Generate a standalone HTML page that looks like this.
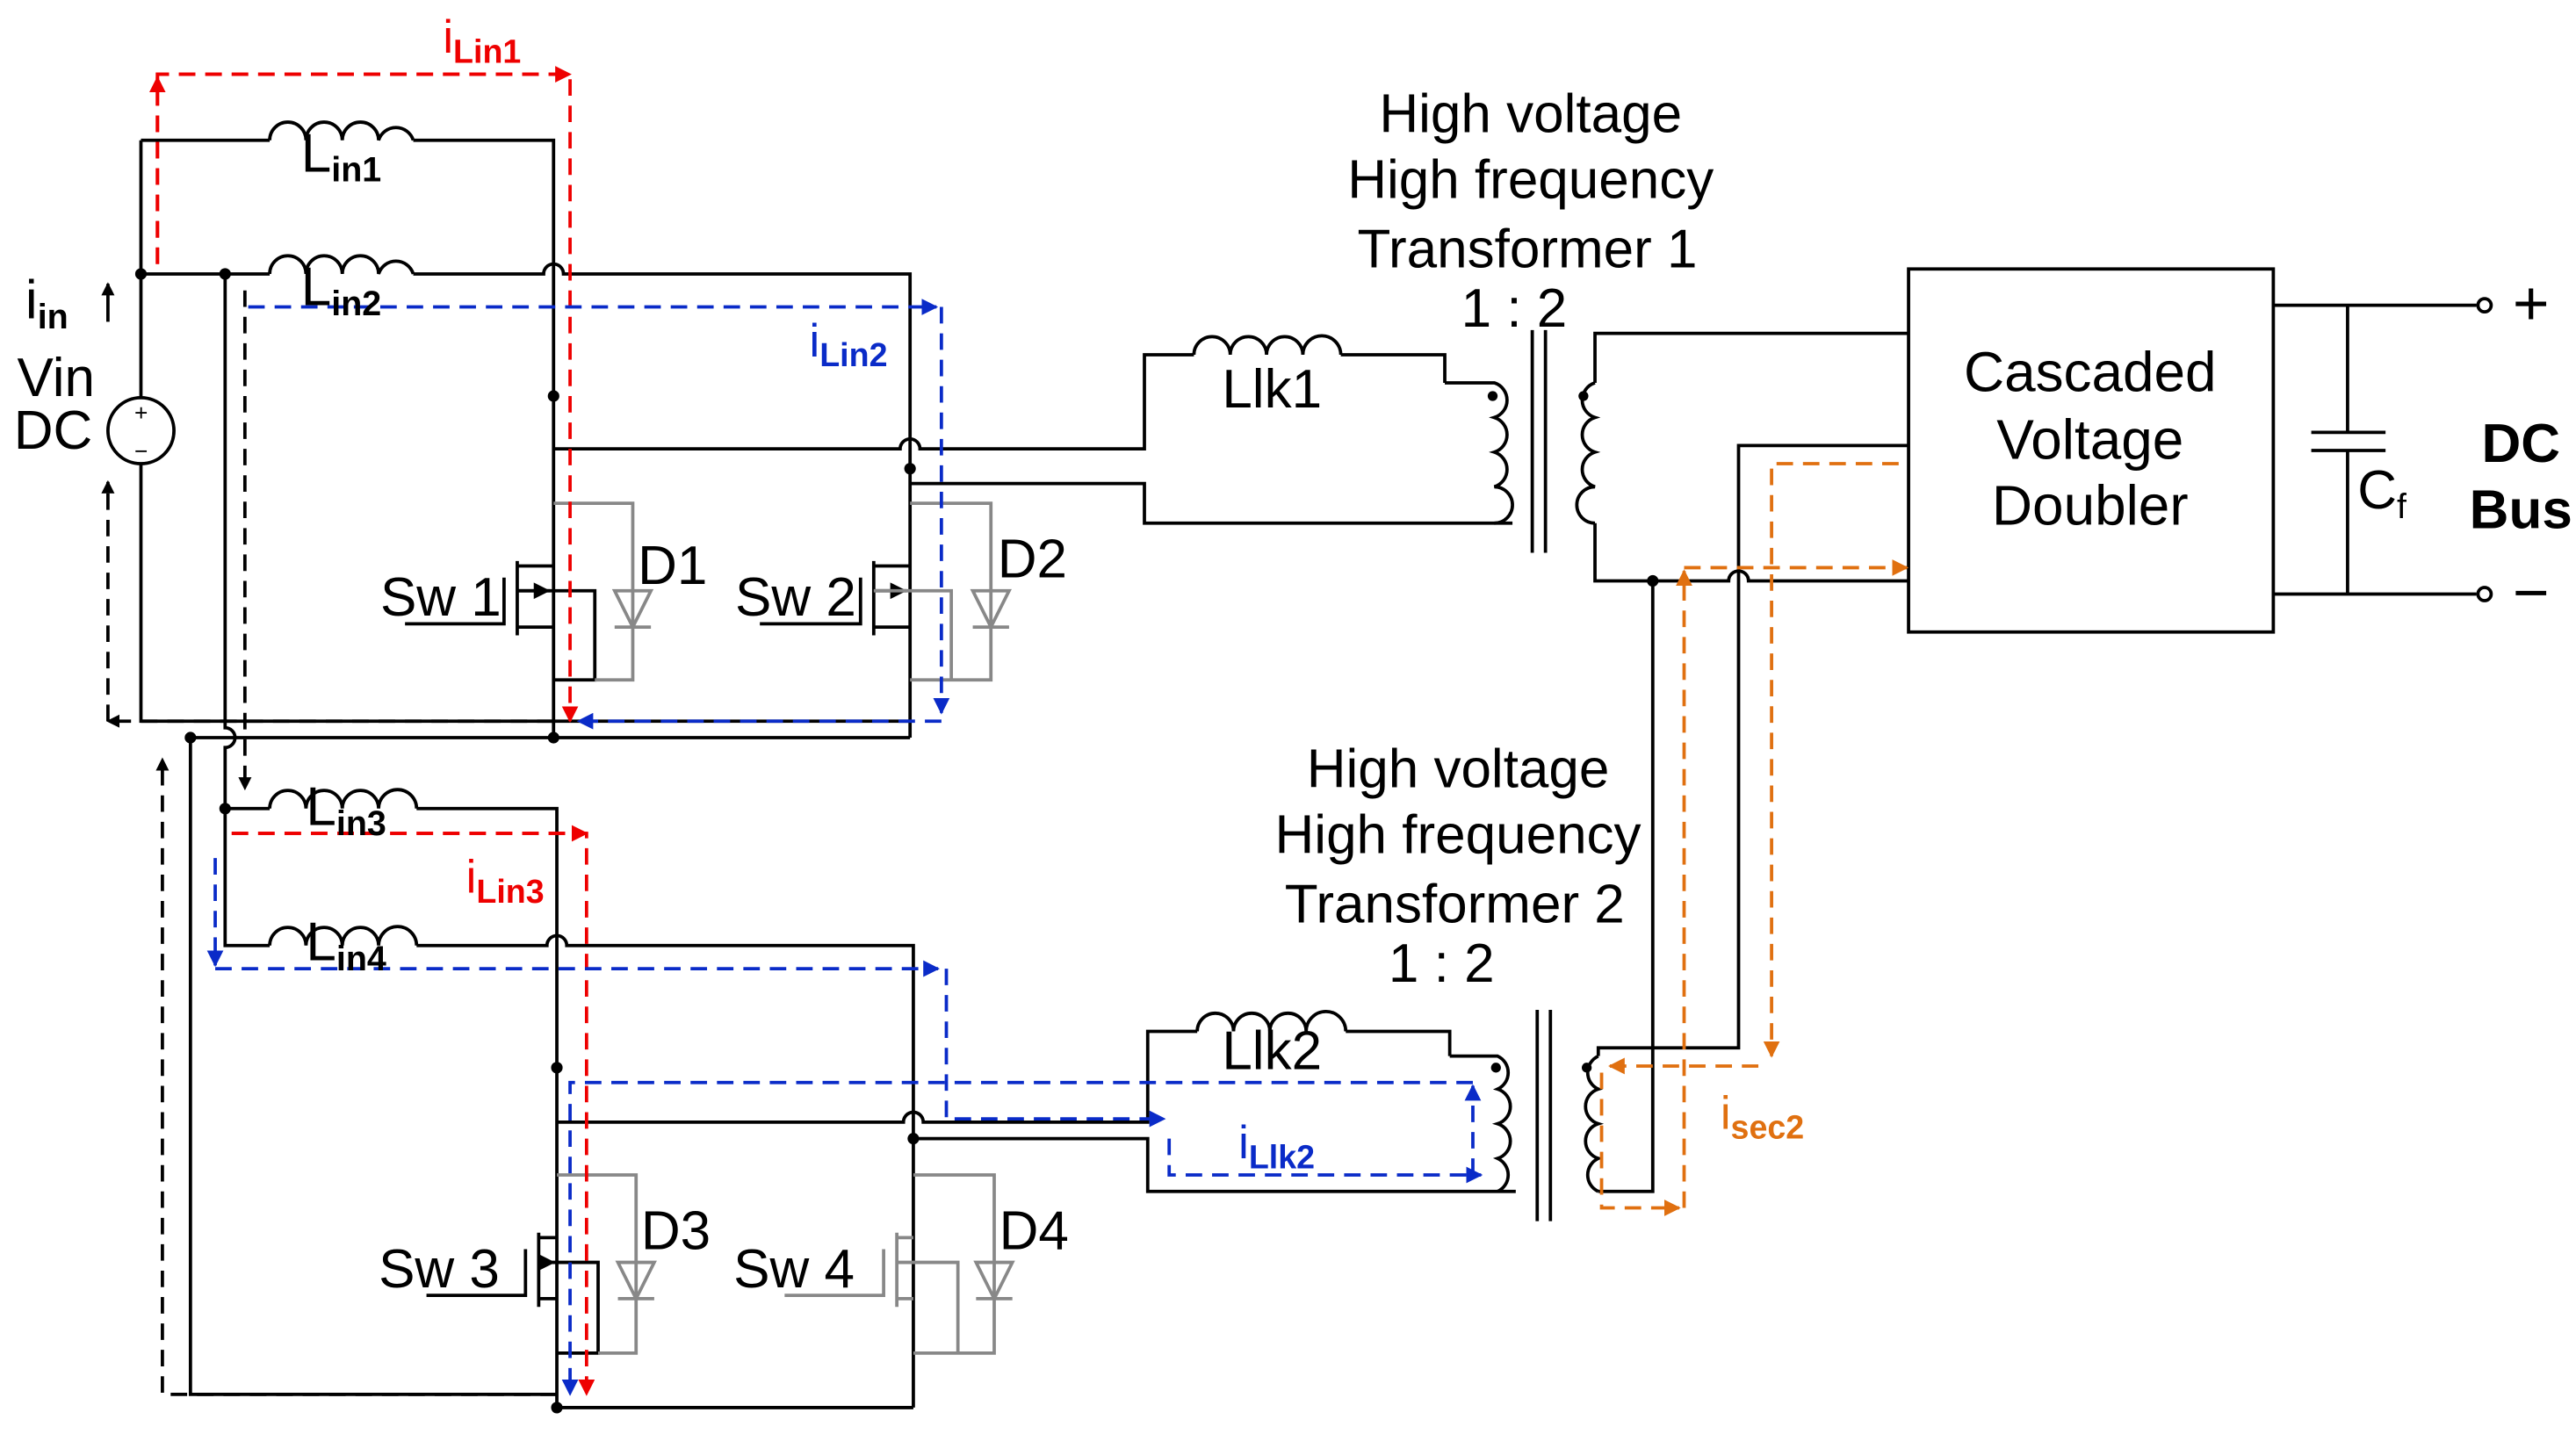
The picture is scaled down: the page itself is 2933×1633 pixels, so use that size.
<!DOCTYPE html>
<html><head><meta charset="utf-8"><style>html,body{margin:0;padding:0;background:#fff}svg{display:block}</style></head><body>
<svg width="2933" height="1633" viewBox="0 0 1560 869" xmlns="http://www.w3.org/2000/svg" font-family="Liberation Sans, sans-serif">
<defs>
<marker id="ak" markerWidth="8" markerHeight="8" refX="7" refY="4" orient="auto" markerUnits="userSpaceOnUse"><path d="M0,0L8,4L0,8z" fill="#000"/></marker>
<marker id="ar" markerWidth="10" markerHeight="10" refX="9" refY="5" orient="auto" markerUnits="userSpaceOnUse"><path d="M0,0L10,5L0,10z" fill="#e00"/></marker>
<marker id="ab" markerWidth="10" markerHeight="10" refX="9" refY="5" orient="auto" markerUnits="userSpaceOnUse"><path d="M0,0L10,5L0,10z" fill="#0a2bc8"/></marker>
<marker id="ao" markerWidth="10" markerHeight="10" refX="9" refY="5" orient="auto" markerUnits="userSpaceOnUse"><path d="M0,0L10,5L0,10z" fill="#e07010"/></marker>
</defs>
<g fill="none" stroke="#000" stroke-width="2">
<path d="M85,85V241M85,281V437H551"/>
<circle cx="85" cy="261" r="20"/>
<path d="M85,85H163M250,85H335V447"/>
<path d="M163,85a11,11 0 0 1 22,0a11,11 0 0 1 22,0a11,11 0 0 1 22,0a11,11 0 0 1 21,0"/>
<path d="M85,166H163M250,166H329a6,6 0 0 1 12,0H551V447"/>
<path d="M163,166a11,11 0 0 1 22,0a11,11 0 0 1 22,0a11,11 0 0 1 22,0a11,11 0 0 1 21,0"/>
<path d="M136,166V441a6,6 0 0 1 0,12V573H163M115,447H551M115,447V845H337"/>
<path d="M136,490H163M252,490H337V853H553"/>
<path d="M163,490a11,11 0 0 1 22,0a11,11 0 0 1 22,0a11,11 0 0 1 22,0a11,11 0 0 1 23,0"/>
<path d="M252,573H331a6,6 0 0 1 12,0H553V853"/>
<path d="M163,573a11,11 0 0 1 22,0a11,11 0 0 1 22,0a11,11 0 0 1 22,0a11,11 0 0 1 23,0"/>
<path d="M335,272H545a6,6 0 0 1 12,0H693V215H723M812,215H875V232"/>
<path d="M723,215a11,11 0 0 1 22,0a11,11 0 0 1 22,0a11,11 0 0 1 22,0a11,11 0 0 1 23,0"/>
<path d="M551,293H693V317H916"/>
<path d="M875,232H905a11,11 0 0 1 0,21a11,11 0 0 1 0,21a11,11 0 0 1 0,21a11,11 0 0 1 0,22"/>
<path d="M928,200V335M936,200V335"/>
<path d="M966,232a11,11 0 0 0 0,21a11,11 0 0 0 0,21a11,11 0 0 0 0,21a11,11 0 0 0 0,22"/>
<path d="M966,232V202H1156M966,317V352H1047a6,6 0 0 1 12,0H1156"/>
<path d="M337,680H547a6,6 0 0 1 12,0H695V625H725M815,625H878V640"/>
<path d="M725,625a11,11 0 0 1 22,0a11,11 0 0 1 22,0a11,11 0 0 1 22,0a11,11 0 0 1 24,0"/>
<path d="M553,690H695V722H918"/>
<path d="M878,640H907a11,11 0 0 1 0,20a11,11 0 0 1 0,21a11,11 0 0 1 0,21a11,11 0 0 1 0,20"/>
<path d="M931,612V740M939,612V740"/>
<path d="M968,640a11,11 0 0 0 0,20a11,11 0 0 0 0,21a11,11 0 0 0 0,21a11,11 0 0 0 0,20"/>
<path d="M968,640V635H1053V270H1156M968,722H1001V352"/>
<rect x="1156" y="163" width="221" height="220"/>
<path d="M1377,185H1500M1377,360H1500M1422,185V262M1422,273V360M1400,262H1445M1400,273H1445"/>
<circle cx="1505" cy="185" r="4"/><circle cx="1505" cy="360" r="4"/>
<path d="M245,378H305V350M313,340V385M313,343H335M313,380H335M313,358H333"/>
<path d="M460,378H521V350M529,340V385M529,343H551M529,380H551M529,358H549"/>
<path d="M258,785H318V757M326,747V792M326,750H337M326,787H337M326,765H362V820H337"/>
<path d="M313,358H360V412H335"/>
</g>
<g fill="#000"><path d="M333,353l-10,5 10,5z" transform="rotate(180 328 358)"/><path d="M549,353l-10,5 10,5z" transform="rotate(180 544 358)"/><path d="M336,760l-10,5 10,5z" transform="rotate(180 331 765)"/></g>
<g fill="none" stroke="#888" stroke-width="2">
<path d="M335,305H383V412H360M551,305H600V412H551M529,358H576V412"/>
<path d="M372,380H394M383,380L372,358H394Z"/>
<path d="M589,380H611M600,380L589,358H611Z"/>
<path d="M337,712H385V820H362"/>
<path d="M374,787H396M385,787L374,765H396Z"/>
<path d="M553,712H602V820H553M475,785H535V757M543,747V792M543,750H553M543,787H553M543,765H580V820H553"/>
<path d="M591,787H613M602,787L591,765H613Z"/>
</g>
<g fill="#000"><circle cx="85" cy="166" r="3.5"/><circle cx="136" cy="166" r="3.5"/><circle cx="335" cy="240" r="3.5"/><circle cx="551" cy="284" r="3.5"/><circle cx="335" cy="447" r="3.5"/><circle cx="115" cy="447" r="3.5"/><circle cx="136" cy="490" r="3.5"/><circle cx="337" cy="647" r="3.5"/><circle cx="553" cy="690" r="3.5"/><circle cx="337" cy="853" r="3.5"/><circle cx="1001" cy="352" r="3.5"/>
<circle cx="904" cy="240" r="3"/><circle cx="959" cy="240" r="3"/><circle cx="906" cy="647" r="3"/><circle cx="961" cy="647" r="3"/></g>
<g fill="none" stroke-width="2" stroke-dasharray="10,6">
<path d="M95,160V45H345V437" stroke="#e00" marker-end="url(#ar)"/>
<path d="M95,160V45H345" stroke="#e00" marker-end="url(#ar)"/>
<path d="M95,160V47" stroke="#e00" marker-end="url(#ar)"/>
<path d="M140,505H355V845" stroke="#e00" marker-end="url(#ar)"/>
<path d="M140,505H355" stroke="#e00" marker-end="url(#ar)"/>
<path d="M150,186H567" stroke="#0a2bc8" marker-end="url(#ab)"/>
<path d="M570,186V432" stroke="#0a2bc8" marker-end="url(#ab)"/>
<path d="M570,437H350" stroke="#0a2bc8" marker-end="url(#ab)"/>
<path d="M130,520V585" stroke="#0a2bc8" marker-end="url(#ab)"/>
<path d="M130,587H568" stroke="#0a2bc8" marker-end="url(#ab)"/>
<path d="M573,587V678H705" stroke="#0a2bc8" marker-end="url(#ab)"/>
<path d="M708,690V712H897" stroke="#0a2bc8" marker-end="url(#ab)"/>
<path d="M892,712V658" stroke="#0a2bc8" marker-end="url(#ab)"/>
<path d="M892,656H345V845" stroke="#0a2bc8" marker-end="url(#ab)"/>
<path d="M148,176V478" stroke="#000" marker-end="url(#ak)"/>
<path d="M335,437H65" stroke="#000" marker-end="url(#ak)"/>
<path d="M65,437V292" stroke="#000" marker-end="url(#ak)"/>
<path d="M337,845H98V460" stroke="#000" marker-end="url(#ak)"/>
<path d="M1150,281H1073V640" stroke="#e07010" marker-end="url(#ao)"/>
<path d="M1065,646H975" stroke="#e07010" marker-end="url(#ao)"/>
<path d="M970,650V732H1017" stroke="#e07010" marker-end="url(#ao)"/>
<path d="M1020,732V346" stroke="#e07010" marker-end="url(#ao)"/>
<path d="M1020,344H1155" stroke="#e07010" marker-end="url(#ao)"/>
</g>
<path d="M65,195V172" stroke="#000" stroke-width="2" marker-end="url(#ak)"/>
<g font-size="33" fill="#000">
<text x="182" y="104">L<tspan font-size="21" font-weight="bold" dy="6">in1</tspan></text>
<text x="182" y="185">L<tspan font-size="21" font-weight="bold" dy="6">in2</tspan></text>
<text x="185" y="500">L<tspan font-size="21" font-weight="bold" dy="6">in3</tspan></text>
<text x="185" y="582">L<tspan font-size="21" font-weight="bold" dy="6">in4</tspan></text>
<text x="15" y="193">i<tspan font-size="21" font-weight="bold" dy="6">in</tspan></text>
<text x="10" y="240">Vin</text><text x="8" y="272">DC</text>
<text x="230" y="373">Sw 1</text><text x="386" y="354">D1</text>
<text x="445" y="373">Sw 2</text><text x="604" y="350">D2</text>
<text x="229" y="780">Sw 3</text><text x="388" y="757">D3</text>
<text x="444" y="780">Sw 4</text><text x="605" y="757">D4</text>
<text x="740" y="247">Llk1</text><text x="740" y="648">Llk2</text>
<g text-anchor="middle"><text x="927" y="80">High voltage</text><text x="927" y="120">High frequency</text><text x="925" y="162">Transformer 1</text><text x="917" y="198">1 : 2</text>
<text x="883" y="477">High voltage</text><text x="883" y="517">High frequency</text><text x="881" y="559">Transformer 2</text><text x="873" y="595">1 : 2</text>
<g font-size="34"><text x="1266" y="237">Cascaded</text><text x="1266" y="278">Voltage</text><text x="1266" y="318">Doubler</text></g></g>
<text x="1428" y="308">C<tspan font-size="21" dy="6">f</tspan></text>
<g font-weight="bold" text-anchor="middle"><text x="1527" y="280">DC</text><text x="1527" y="320">Bus</text></g>
<text x="1522" y="197" font-size="38">+</text><text x="1522" y="372" font-size="38">−</text>
</g>
<g font-size="28">
<text x="268" y="32" fill="#e00">i<tspan font-size="20" font-weight="bold" dy="6">Lin1</tspan></text>
<text x="282" y="541" fill="#e00">i<tspan font-size="20" font-weight="bold" dy="6">Lin3</tspan></text>
<text x="490" y="216" fill="#0a2bc8">i<tspan font-size="20" font-weight="bold" dy="6">Lin2</tspan></text>
<text x="750" y="702" fill="#0a2bc8">i<tspan font-size="20" font-weight="bold" dy="6">Llk2</tspan></text>
<text x="1042" y="684" fill="#e07010">i<tspan font-size="20" font-weight="bold" dy="6">sec2</tspan></text>
</g>
<g font-size="14"><text x="81" y="255">+</text><text x="81" y="278">−</text></g>
</svg>
</body></html>
